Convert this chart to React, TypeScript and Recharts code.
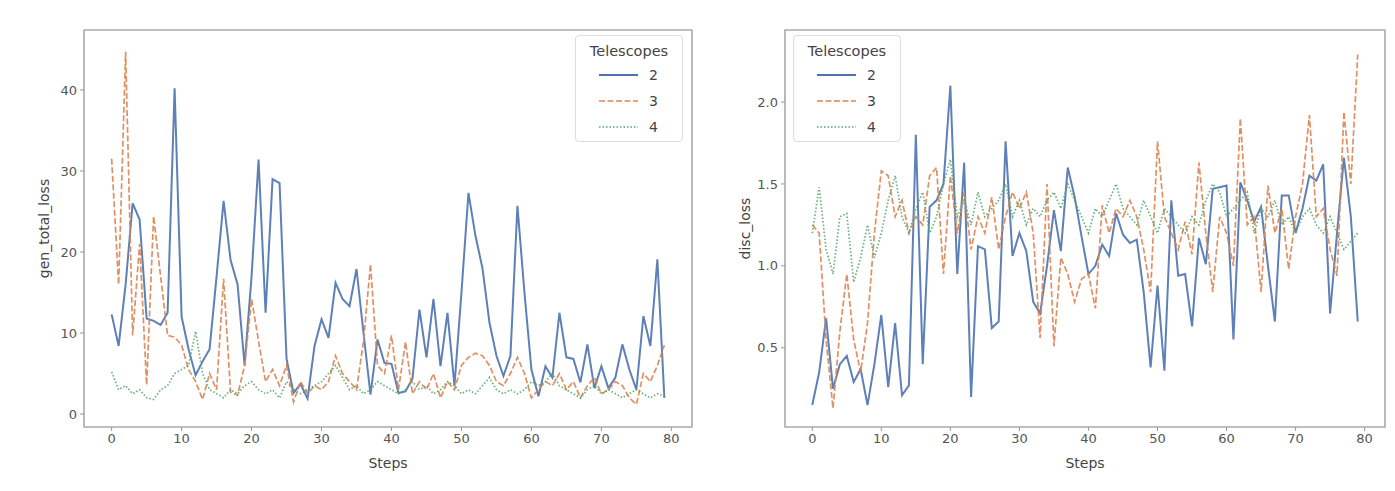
import { CartesianGrid, Legend, Line, LineChart, ReferenceArea, XAxis, YAxis } from 'recharts'

const steps = Array.from({ length: 80 }, (_, i) => i)
const xTicks = [0, 10, 20, 30, 40, 50, 60, 70, 80]
const telescopes = ['2', '3', '4']

const gen2 = [
  12.3, 8.4, 16, 26, 24, 11.8, 11.5, 11, 12.5, 40.2,
  12, 8, 4.8, 6.5, 8, 17, 26.3, 19, 16, 6,
  17, 31.4, 12.5, 29, 28.5, 6.8, 2.6, 3.7, 1.9, 8.4,
  11.7, 9.4, 16.2, 14.2, 13.3, 17.9, 10, 2.4, 9.2, 6.3,
  6.2, 2.6, 2.8, 4.4, 12.9, 7, 14.2, 5.9, 12.5, 3.5,
  15, 27.3, 22, 18, 11.3, 7.2, 4.7, 7.2, 25.7, 15,
  5.5, 2.2, 5.9, 4.5, 12.5, 7, 6.8, 3.9, 8.6, 3.2,
  5.9, 3.2, 4.5, 8.6, 5.5, 3, 12.1, 8.4, 19.1, 2,
]
const gen3 = [
  31.5, 16, 44.7, 9.7, 21, 3.6, 24.4, 17, 9.7, 9.5,
  8.5, 5.5, 4, 1.8, 5, 3, 16.7, 2.7, 2.3, 6,
  14.2, 9, 4, 5.5, 3.5, 6, 1.5, 4, 2.5, 3.5,
  3, 4, 7.2, 5, 4, 3, 9, 18.5, 6, 5,
  9.7, 3, 8.9, 2.5, 4, 3, 5, 2, 4, 3,
  6, 7, 7.5, 7.2, 6, 4, 3.5, 5, 7, 5,
  2, 3, 4, 3.5, 5, 3, 4, 2, 3.5, 4.5,
  2.5, 3, 4, 3.5, 2, 1.2, 5, 4, 6, 8.5,
]
const gen4 = [
  5.2, 3, 3.5, 2.5, 3, 2, 1.8, 3, 3.5, 5,
  5.5, 6, 10.2, 5, 3, 2.5, 2, 3, 2.5, 3.5,
  4, 3, 2.5, 3, 2, 4, 3, 2.5, 3, 3.5,
  4, 5, 6, 4.5, 3, 3.5, 2.5, 3, 4, 3.5,
  3, 2.5, 3, 4, 3, 3.5, 2.5, 3, 4, 3.5,
  2.5, 3, 2.5, 3.5, 4.5, 3, 2.5, 3, 2.5, 3,
  4, 3.5, 4, 5, 3.5, 3, 2.5, 2, 3, 3.5,
  2.5, 3, 2.5, 2, 2.5, 3, 2.5, 2, 2.5, 2.2,
]

const disc2 = [
  0.15, 0.35, 0.68, 0.25, 0.4, 0.45, 0.29, 0.37, 0.15, 0.4,
  0.7, 0.26, 0.65, 0.21, 0.27, 1.8, 0.4, 1.36, 1.4, 1.5,
  2.1, 0.95, 1.63, 0.2, 1.12, 1.1, 0.62, 0.66, 1.76, 1.06,
  1.2, 1.09, 0.78, 0.71, 1.0, 1.34, 1.09, 1.6, 1.42, 1.18,
  0.95, 1.0, 1.13, 1.06, 1.32, 1.19, 1.14, 1.16, 0.84, 0.38,
  0.88, 0.36, 1.4, 0.94, 0.95, 0.63, 1.17, 1.01, 1.47, 1.48,
  1.49, 0.55, 1.51, 1.4, 1.27, 1.36, 1.0, 0.66, 1.43, 1.43,
  1.2, 1.35, 1.55, 1.52, 1.62, 0.71, 1.2, 1.66, 1.3, 0.66,
]
const disc3 = [
  1.25, 1.2, 0.55, 0.13, 0.6, 0.95, 0.55, 0.35, 0.65, 1.2,
  1.58, 1.55, 1.3, 1.4, 1.2, 1.3, 1.25, 1.55, 1.6, 0.95,
  1.55, 1.2, 1.45, 1.1, 1.3, 1.2, 1.42, 1.1, 1.3, 1.45,
  1.35, 1.45, 1.2, 0.56, 1.5, 0.51, 1.05, 0.95, 0.78, 0.92,
  0.95, 0.74, 1.37, 1.2, 1.35, 1.3, 1.4, 1.3, 1.1, 0.84,
  1.76, 1.3, 1.2, 1.1, 1.27, 1.07, 1.63, 1.2, 0.84, 1.3,
  1.2, 1.0, 1.9, 1.25, 1.3, 0.84, 1.49, 1.2, 1.35, 0.98,
  1.3, 1.5, 1.92, 1.3, 1.35, 1.1, 0.94, 1.94, 1.5, 2.29,
]
const disc4 = [
  1.2, 1.48, 1.1, 0.95, 1.3, 1.32, 0.9, 1.05, 1.25, 1.05,
  1.2, 1.4, 1.55, 1.3, 1.2, 1.35, 1.45, 1.2, 1.3, 1.5,
  1.65, 1.3, 1.4, 1.25, 1.45, 1.3, 1.35, 1.4, 1.5, 1.3,
  1.4, 1.25, 1.35, 1.3, 1.4, 1.45, 1.35, 1.5, 1.4, 1.3,
  1.2, 1.35, 1.3, 1.4, 1.5, 1.35, 1.3, 1.25, 1.4, 1.3,
  1.2, 1.35, 1.3, 1.25, 1.2, 1.3, 1.25, 1.4, 1.5, 1.45,
  1.3, 1.35, 1.4, 1.45, 1.2, 1.35, 1.3, 1.4, 1.25, 1.3,
  1.2, 1.3, 1.35, 1.25, 1.2, 1.3, 1.2, 1.1, 1.15, 1.2,
]

const genData = steps.map((s, i) => ({ step: s, t2: gen2[i], t3: gen3[i], t4: gen4[i] }))
const discData = steps.map((s, i) => ({ step: s, t2: disc2[i], t3: disc3[i], t4: disc4[i] }))

const styles = [
  { key: 't2', color: '#4c72b0', width: 2, dash: undefined },
  { key: 't3', color: '#dd8452', width: 1.7, dash: '6 2.5' },
  { key: 't4', color: '#55a868', width: 1.7, dash: '1.5 2' },
]

const font = '"DejaVu Sans", sans-serif'
const tickStyle = { fontSize: 13, fill: '#555', fontFamily: font }
const XDOM: [number, number] = [-3.95, 82.95]

// matplotlib-like legend box, drawn with absolute positions
function TelescopeLegend() {
  return (
    <div
      style={{
        position: 'relative',
        width: 108,
        height: 107,
        border: '1px solid #ddd',
        borderRadius: 4,
        background: 'rgba(255,255,255,0.85)',
        fontFamily: font,
        fontSize: 14,
        color: '#444',
        boxSizing: 'border-box',
      }}
    >
      <div style={{ position: 'absolute', left: 0, right: 0, top: 7, textAlign: 'center', fontSize: 14.5 }}>Telescopes</div>
      {styles.map((s, i) => (
        <div key={s.key} style={{ position: 'absolute', left: 0, top: 29 + i * 26, height: 20, display: 'flex', alignItems: 'center' }}>
          <svg width={39} height={10} style={{ marginLeft: 23, marginRight: 11 }}>
            <line x1={0} y1={5} x2={39} y2={5} stroke={s.color} strokeWidth={s.width} strokeDasharray={s.dash} />
          </svg>
          <span>{telescopes[i]}</span>
        </div>
      ))}
    </div>
  )
}

function yLabel(text: string, dx: number) {
  return ({ viewBox }: any) => {
    const x = viewBox.x + dx
    const y = viewBox.y + viewBox.height / 2
    return (
      <text
        x={x}
        y={y}
        transform={`rotate(-90, ${x}, ${y})`}
        textAnchor="middle"
        dominantBaseline="central"
        fontSize={14}
        fontFamily={font}
        fill="#444"
      >
        {text}
      </text>
    )
  }
}

function Panel(props: {
  data: any[]
  width: number
  margin: any
  yWidth: number
  yDomain: [number, number]
  yTicks: number[]
  yFmt?: (v: number) => string
  yName: string
  yLabelDx: number
  legendPos: any
}) {
  const { data, width, margin, yWidth, yDomain, yTicks, yFmt, yName, yLabelDx, legendPos } = props
  return (
    <LineChart width={width} height={475} data={data} margin={margin}>
      <CartesianGrid horizontal={false} vertical={false} fill="#fff" />
      <XAxis
        type="number"
        dataKey="step"
        domain={XDOM}
        ticks={xTicks}
        allowDataOverflow
        tickSize={4}
        tickMargin={3}
        height={46}
        axisLine={false}
        stroke="#999"
        tick={tickStyle}
        label={{ value: 'Steps', position: 'insideBottom', offset: 5, style: { fontSize: 14, fill: '#444', fontFamily: font } }}
      />
      <YAxis
        type="number"
        domain={yDomain}
        ticks={yTicks}
        allowDataOverflow
        width={yWidth}
        tickSize={4}
        tickMargin={3}
        axisLine={false}
        stroke="#999"
        tick={tickStyle}
        tickFormatter={yFmt}
        label={yLabel(yName, yLabelDx)}
      />
      {styles.map((s) => (
        <Line
          key={s.key}
          type="linear"
          dataKey={s.key}
          stroke={s.color}
          strokeWidth={s.width}
          strokeDasharray={s.dash}
          strokeOpacity={0.9}
          dot={false}
          isAnimationActive={false}
        />
      ))}
      <ReferenceArea
        x1={XDOM[0]}
        x2={XDOM[1]}
        y1={yDomain[0]}
        y2={yDomain[1]}
        fill="none"
        stroke="#aaa"
        strokeWidth={1.6}
        ifOverflow="visible"
      />
      <Legend
        layout="horizontal"
        verticalAlign="middle"
        align="center"
        content={() => <TelescopeLegend />}
        wrapperStyle={{ position: 'absolute', width: 'auto', height: 'auto', ...legendPos }}
      />
    </LineChart>
  )
}

export default function App() {
  return (
    <div style={{ display: 'flex', width: 1379, height: 475, background: '#fff' }}>
      <Panel
        data={genData}
        width={692}
        margin={{ top: 22, right: 8, left: 30, bottom: 10 }}
        yWidth={46}
        yDomain={[-1.6, 47.4]}
        yTicks={[0, 10, 20, 30, 40]}
        yName="gen_total_loss"
        yLabelDx={6}
        legendPos={{ left: 567, top: 27 }}
      />
      <Panel
        data={discData}
        width={687}
        margin={{ top: 22, right: 2, left: 35, bottom: 10 }}
        yWidth={50}
        yDomain={[0.016, 2.44]}
        yTicks={[0.5, 1, 1.5, 2]}
        yFmt={(v: number) => v.toFixed(1)}
        yName="disc_loss"
        yLabelDx={10}
        legendPos={{ left: 93, top: 27 }}
      />
    </div>
  )
}
